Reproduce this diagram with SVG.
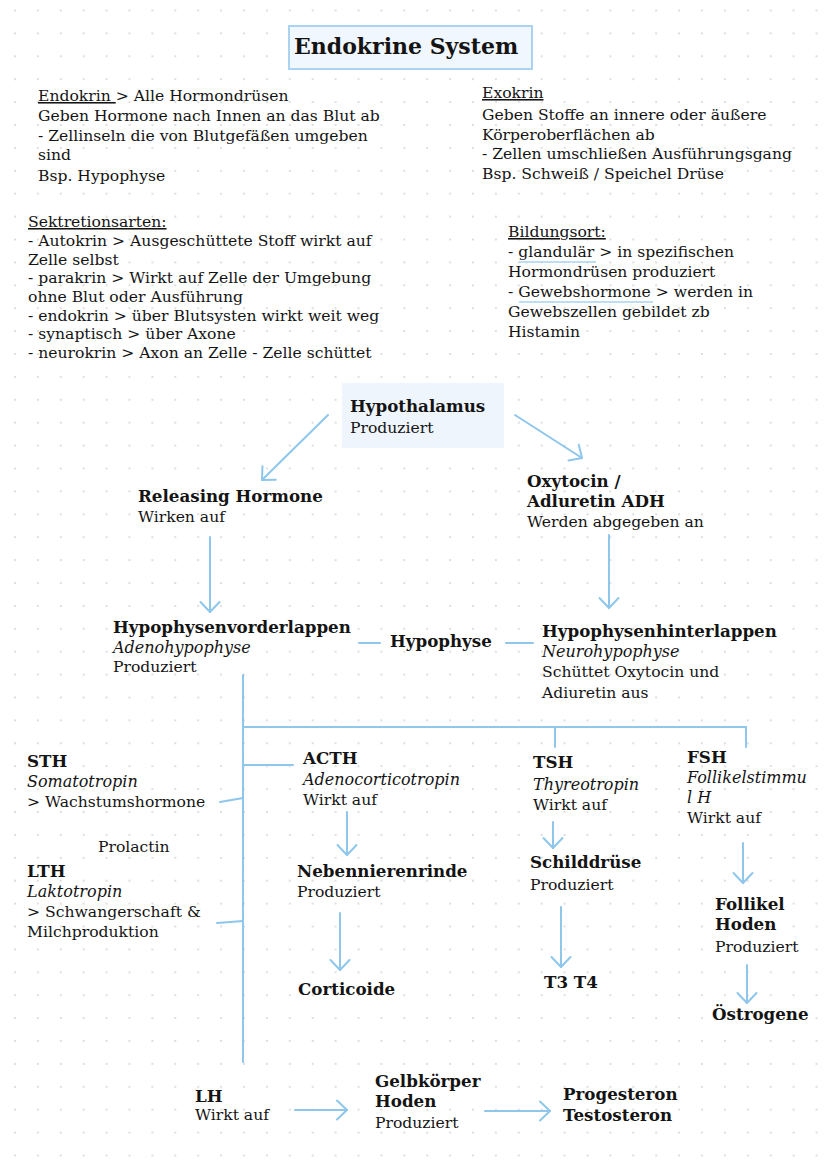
<svg xmlns="http://www.w3.org/2000/svg" width="828" height="1169" viewBox="0 0 828 1169">
<defs>
<pattern id="dots" x="14" y="9.5" width="22.9" height="22.9" patternUnits="userSpaceOnUse"><circle cx="1" cy="1" r="0.9" fill="#d0d0d0"/></pattern>
<marker id="arr" viewBox="-12 -11 14 22" refX="0" refY="0" markerWidth="14" markerHeight="22" markerUnits="userSpaceOnUse" orient="auto" overflow="visible"><path d="M-10,-9.5 L0,0 L-10,9.5" fill="none" stroke="#8ec6ec" stroke-width="2" stroke-linecap="round" stroke-linejoin="round"/></marker>
</defs>
<style>
text{font-family:"DejaVu Serif","Liberation Serif",serif;font-size:15.6px;fill:#141414}
.b{font-weight:bold;font-size:16.7px}
.i{font-style:italic;font-size:16px}
.u{text-decoration:underline}
.c{stroke:#8ec6ec;stroke-width:2;fill:none;stroke-linecap:round}
.a{marker-end:url(#arr)}
</style>
<rect width="828" height="1169" fill="#ffffff"/>
<rect width="828" height="1169" fill="url(#dots)"/>

<g id="title">
<rect x="289" y="26" width="243" height="43" fill="#f1f7fe" stroke="#a9d3f1" stroke-width="2"/>
<text x="294" y="54" style="font-weight:bold;font-size:22px">Endokrine System</text>
</g>

<g id="endokrin">
<text x="38" y="101"><tspan class="u">Endokrin </tspan>&gt; Alle Hormondrüsen</text>
<text x="38" y="121">Geben Hormone nach Innen an das Blut ab</text>
<text x="38" y="141">- Zellinseln die von Blutgefäßen umgeben</text>
<text x="38" y="160">sind</text>
<text x="38" y="181">Bsp. Hypophyse</text>
</g>

<g id="exokrin">
<text x="482" y="98" class="u">Exokrin</text>
<text x="482" y="120">Geben Stoffe an innere oder äußere</text>
<text x="482" y="140">Körperoberflächen ab</text>
<text x="482" y="159">- Zellen umschließen Ausführungsgang</text>
<text x="482" y="179">Bsp. Schweiß / Speichel Drüse</text>
</g>

<g id="sekretionsarten">
<text x="28" y="227" class="u">Sektretionsarten:</text>
<text x="28" y="246">- Autokrin &gt; Ausgeschüttete Stoff wirkt auf</text>
<text x="28" y="265">Zelle selbst</text>
<text x="28" y="283">- parakrin &gt; Wirkt auf Zelle der Umgebung</text>
<text x="28" y="302">ohne Blut oder Ausführung</text>
<text x="28" y="321">- endokrin &gt; über Blutsysten wirkt weit weg</text>
<text x="28" y="339">- synaptisch &gt; über Axone</text>
<text x="28" y="358">- neurokrin &gt; Axon an Zelle - Zelle schüttet</text>
</g>

<g id="bildungsort">
<text x="508" y="237" class="u">Bildungsort:</text>
<text x="508" y="257">- glandulär &gt; in spezifischen</text>
<text x="508" y="277">Hormondrüsen produziert</text>
<text x="508" y="297">- Gewebshormone &gt; werden in</text>
<text x="508" y="317">Gewebszellen gebildet zb</text>
<text x="508" y="337">Histamin</text>
<line x1="519" y1="262" x2="596" y2="262" stroke="#a9d3f1" stroke-width="1.5"/>
<line x1="519" y1="302" x2="653" y2="302" stroke="#a9d3f1" stroke-width="1.5"/>
</g>

<g id="hypothalamus">
<rect x="342" y="383" width="162" height="65" fill="#eef5fc"/>
<text x="350" y="412" class="b">Hypothalamus</text>
<text x="350" y="433">Produziert</text>
</g>

<g id="releasing">
<text x="138" y="502" class="b">Releasing Hormone</text>
<text x="138" y="522">Wirken auf</text>
</g>

<g id="oxytocin">
<text x="527" y="487" class="b">Oxytocin /</text>
<text x="527" y="507" class="b">Adluretin ADH</text>
<text x="527" y="527">Werden abgegeben an</text>
</g>

<g id="vorderlappen">
<text x="113" y="633" class="b">Hypophysenvorderlappen</text>
<text x="113" y="653" class="i">Adenohypophyse</text>
<text x="113" y="672">Produziert</text>
</g>

<g id="hypophyse">
<text x="390" y="647" class="b">Hypophyse</text>
</g>

<g id="hinterlappen">
<text x="542" y="637" class="b">Hypophysenhinterlappen</text>
<text x="542" y="657" class="i">Neurohypophyse</text>
<text x="542" y="677">Schüttet Oxytocin und</text>
<text x="542" y="698">Adiuretin aus</text>
</g>

<g id="sth">
<text x="27" y="767" class="b">STH</text>
<text x="27" y="787" class="i">Somatotropin</text>
<text x="27" y="807">&gt; Wachstumshormone</text>
</g>

<g id="lth">
<text x="98" y="852">Prolactin</text>
<text x="27" y="877" class="b">LTH</text>
<text x="27" y="897" class="i">Laktotropin</text>
<text x="27" y="917">&gt; Schwangerschaft &amp;</text>
<text x="27" y="937">Milchproduktion</text>
</g>

<g id="acth">
<text x="303" y="764" class="b">ACTH</text>
<text x="303" y="785" class="i">Adenocorticotropin</text>
<text x="303" y="805">Wirkt auf</text>
</g>

<g id="nebennierenrinde">
<text x="297" y="877" class="b">Nebennierenrinde</text>
<text x="297" y="897">Produziert</text>
</g>

<g id="corticoide">
<text x="298" y="995" class="b">Corticoide</text>
</g>

<g id="tsh">
<text x="533" y="768" class="b">TSH</text>
<text x="533" y="790" class="i">Thyreotropin</text>
<text x="533" y="810">Wirkt auf</text>
</g>

<g id="schilddruese">
<text x="530" y="868" class="b">Schilddrüse</text>
<text x="530" y="890">Produziert</text>
</g>

<g id="t3t4">
<text x="544" y="988" class="b">T3 T4</text>
</g>

<g id="fsh">
<text x="687" y="763" class="b">FSH</text>
<text x="687" y="783" class="i">Follikelstimmu</text>
<text x="687" y="803" class="i">l H</text>
<text x="687" y="823">Wirkt auf</text>
</g>

<g id="follikel">
<text x="715" y="910" class="b">Follikel</text>
<text x="715" y="930" class="b">Hoden</text>
<text x="715" y="952">Produziert</text>
</g>

<g id="oestrogene">
<text x="712" y="1020" class="b">Östrogene</text>
</g>

<g id="lh">
<text x="195" y="1102" class="b">LH</text>
<text x="195" y="1120">Wirkt auf</text>
</g>

<g id="gelbkoerper">
<text x="375" y="1087" class="b">Gelbkörper</text>
<text x="375" y="1107" class="b">Hoden</text>
<text x="375" y="1128">Produziert</text>
</g>

<g id="progesteron">
<text x="563" y="1100" class="b">Progesteron</text>
<text x="563" y="1121" class="b">Testosteron</text>
</g>

<g id="connectors">
<line class="c a" x1="328" y1="415" x2="262" y2="480"/>
<line class="c a" x1="515" y1="415" x2="582" y2="458"/>
<line class="c a" x1="210" y1="537" x2="210" y2="612"/>
<line class="c a" x1="609" y1="535" x2="609" y2="608"/>
<line class="c" x1="359" y1="643" x2="380" y2="643"/>
<line class="c" x1="506" y1="643" x2="533" y2="643"/>
<line class="c" x1="243" y1="675" x2="243" y2="1062"/>
<line class="c" x1="243" y1="727" x2="746" y2="727"/>
<line class="c" x1="555" y1="727" x2="555" y2="747"/>
<line class="c" x1="746" y1="727" x2="746" y2="747"/>
<line class="c" x1="243" y1="765" x2="293" y2="765"/>
<line class="c" x1="220" y1="802" x2="243" y2="798"/>
<line class="c" x1="217" y1="923" x2="243" y2="921"/>
<line class="c a" x1="347" y1="812" x2="347" y2="855"/>
<line class="c a" x1="340" y1="913" x2="340" y2="970"/>
<line class="c a" x1="553" y1="822" x2="553" y2="848"/>
<line class="c a" x1="561" y1="907" x2="561" y2="967"/>
<line class="c a" x1="743" y1="843" x2="743" y2="883"/>
<line class="c a" x1="747" y1="965" x2="747" y2="1003"/>
<line class="c a" x1="295" y1="1110" x2="347" y2="1110"/>
<line class="c a" x1="485" y1="1111" x2="550" y2="1111"/>
</g>
</svg>
